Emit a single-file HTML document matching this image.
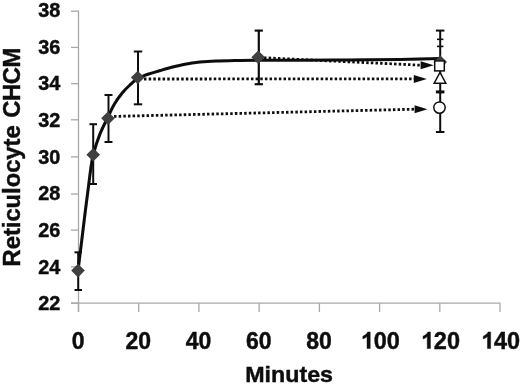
<!DOCTYPE html>
<html><head><meta charset="utf-8"><title>chart</title>
<style>
html,body{margin:0;padding:0;background:#fff;}
body{width:520px;height:384px;overflow:hidden;}
svg{display:block;}
text{font-family:"Liberation Sans",sans-serif;font-weight:bold;fill:#111;stroke:#111;stroke-width:0.45px;}
</style></head><body>
<svg width="520" height="384" viewBox="0 0 520 384">
<rect width="520" height="384" fill="#fff"/>
<defs><filter id="soft" x="0" y="0" width="520" height="384" filterUnits="userSpaceOnUse"><feGaussianBlur stdDeviation="0.4"/></filter></defs>
<g filter="url(#soft)">

<g stroke="#a8a8a8" stroke-width="1.3" fill="none">
<line x1="78.5" y1="10.6" x2="78.5" y2="311.9"/>
<line x1="71.0" y1="303.2" x2="500.5" y2="303.2"/>
<line x1="71.0" y1="303.2" x2="78.5" y2="303.2"/>
<line x1="71.0" y1="266.8" x2="78.5" y2="266.8"/>
<line x1="71.0" y1="230.1" x2="78.5" y2="230.1"/>
<line x1="71.0" y1="194.0" x2="78.5" y2="194.0"/>
<line x1="71.0" y1="156.9" x2="78.5" y2="156.9"/>
<line x1="71.0" y1="119.8" x2="78.5" y2="119.8"/>
<line x1="71.0" y1="83.7" x2="78.5" y2="83.7"/>
<line x1="71.0" y1="47.4" x2="78.5" y2="47.4"/>
<line x1="71.0" y1="11.2" x2="78.5" y2="11.2"/>
<line x1="78.5" y1="303.2" x2="78.5" y2="311.9"/>
<line x1="138.7" y1="303.2" x2="138.7" y2="311.9"/>
<line x1="198.9" y1="303.2" x2="198.9" y2="311.9"/>
<line x1="259.1" y1="303.2" x2="259.1" y2="311.9"/>
<line x1="319.4" y1="303.2" x2="319.4" y2="311.9"/>
<line x1="379.6" y1="303.2" x2="379.6" y2="311.9"/>
<line x1="439.8" y1="303.2" x2="439.8" y2="311.9"/>
<line x1="500.0" y1="303.2" x2="500.0" y2="311.9"/>
</g>
<text transform="translate(60.4,310.2) scale(1.03,1)" font-size="19.3" text-anchor="end">22</text>
<text transform="translate(60.4,273.5) scale(1.03,1)" font-size="19.3" text-anchor="end">24</text>
<text transform="translate(60.4,236.9) scale(1.03,1)" font-size="19.3" text-anchor="end">26</text>
<text transform="translate(60.4,200.2) scale(1.03,1)" font-size="19.3" text-anchor="end">28</text>
<text transform="translate(60.4,163.6) scale(1.03,1)" font-size="19.3" text-anchor="end">30</text>
<text transform="translate(60.4,127.0) scale(1.03,1)" font-size="19.3" text-anchor="end">32</text>
<text transform="translate(60.4,90.3) scale(1.03,1)" font-size="19.3" text-anchor="end">34</text>
<text transform="translate(60.4,53.7) scale(1.03,1)" font-size="19.3" text-anchor="end">36</text>
<text transform="translate(60.4,17.1) scale(1.03,1)" font-size="19.3" text-anchor="end">38</text>
<text transform="translate(78.1,348.5)" font-size="23" text-anchor="middle">0</text>
<text transform="translate(138.3,348.5)" font-size="23" text-anchor="middle">20</text>
<text transform="translate(198.5,348.5)" font-size="23" text-anchor="middle">40</text>
<text transform="translate(258.7,348.5)" font-size="23" text-anchor="middle">60</text>
<text transform="translate(319.0,348.5)" font-size="23" text-anchor="middle">80</text>
<path transform="translate(361.00,348.5) scale(0.01146,-0.01123)" d="M806,0 H525 V1059 Q371,915 162,846 V1101 Q272,1137 401,1237.5 Q530,1338 578,1472 H806 Z" fill="#111" stroke="#111" stroke-width="40"/>
<text transform="translate(373.65,348.5) scale(1.020,1)" font-size="23" text-anchor="start">00</text>
<path transform="translate(421.21,348.5) scale(0.01146,-0.01123)" d="M806,0 H525 V1059 Q371,915 162,846 V1101 Q272,1137 401,1237.5 Q530,1338 578,1472 H806 Z" fill="#111" stroke="#111" stroke-width="40"/>
<text transform="translate(433.86,348.5) scale(1.020,1)" font-size="23" text-anchor="start">20</text>
<path transform="translate(481.43,348.5) scale(0.01146,-0.01123)" d="M806,0 H525 V1059 Q371,915 162,846 V1101 Q272,1137 401,1237.5 Q530,1338 578,1472 H806 Z" fill="#111" stroke="#111" stroke-width="40"/>
<text transform="translate(494.08,348.5) scale(1.020,1)" font-size="23" text-anchor="start">40</text>
<text transform="translate(289.1,381.6) scale(1.02,1)" font-size="22.8" text-anchor="middle">Minutes</text>
<text transform="translate(20,266.4) rotate(-90)" font-size="23.8" text-anchor="start" letter-spacing="-0.04">Reticulocyte</text>
<text transform="translate(20,48.0) rotate(-90)" font-size="23.8" text-anchor="end" letter-spacing="-0.4">CHCM</text>
<g stroke="#111" fill="none"><line x1="78.2" y1="252.3" x2="78.2" y2="290.0" stroke-width="2.0"/><line x1="74.5" y1="252.3" x2="82.0" y2="252.3" stroke-width="2.0"/><line x1="74.5" y1="290.0" x2="82.0" y2="290.0" stroke-width="2.0"/></g>
<g stroke="#111" fill="none"><line x1="93.2" y1="124.2" x2="93.2" y2="184.0" stroke-width="2.0"/><line x1="89.5" y1="124.2" x2="97.0" y2="124.2" stroke-width="2.0"/><line x1="89.5" y1="184.0" x2="97.0" y2="184.0" stroke-width="2.0"/></g>
<g stroke="#111" fill="none"><line x1="108.5" y1="95.0" x2="108.5" y2="142.0" stroke-width="2.0"/><line x1="104.5" y1="95.0" x2="112.5" y2="95.0" stroke-width="2.0"/><line x1="104.5" y1="142.0" x2="112.5" y2="142.0" stroke-width="2.0"/></g>
<g stroke="#111" fill="none"><line x1="138.0" y1="51.5" x2="138.0" y2="104.3" stroke-width="2.0"/><line x1="133.8" y1="51.5" x2="142.2" y2="51.5" stroke-width="2.0"/><line x1="133.8" y1="104.3" x2="142.2" y2="104.3" stroke-width="2.0"/></g>
<g stroke="#111" fill="none"><line x1="258.8" y1="30.6" x2="258.8" y2="84.2" stroke-width="2.2"/><line x1="254.7" y1="30.6" x2="262.9" y2="30.6" stroke-width="2.2"/><line x1="254.7" y1="84.2" x2="262.9" y2="84.2" stroke-width="2.2"/></g>
<g stroke="#111" fill="none"><line x1="440.2" y1="30.6" x2="440.2" y2="132.0" stroke-width="2.0"/><line x1="435.9" y1="30.6" x2="444.4" y2="30.6" stroke-width="2.0"/><line x1="435.9" y1="132.0" x2="444.4" y2="132.0" stroke-width="2.0"/></g>
<line x1="437.0" y1="39.3" x2="443.4" y2="39.3" stroke="#111" stroke-width="1.6"/>
<line x1="437.0" y1="46.4" x2="443.4" y2="46.4" stroke="#111" stroke-width="1.6"/>
<line x1="435.9" y1="91.9" x2="444.4" y2="91.9" stroke="#111" stroke-width="3.0"/>
<line x1="264.0" y1="57.8" x2="421.0" y2="65.2" stroke="#111" stroke-width="2.8" stroke-dasharray="2.5 2.15"/><path d="M433.8,65.2 L420.6,61.2 L420.6,69.2 Z" fill="#111"/>
<line x1="144.0" y1="79.0" x2="414.2" y2="78.9" stroke="#111" stroke-width="2.8" stroke-dasharray="2.5 2.15"/><path d="M426.9,78.9 L413.8,74.9 L413.8,82.9 Z" fill="#111"/>
<line x1="114.0" y1="116.4" x2="415.0" y2="109.2" stroke="#111" stroke-width="2.8" stroke-dasharray="2.5 2.15"/><path d="M427.5,109.2 L414.6,105.2 L414.6,113.2 Z" fill="#111"/>
<path d="M78.0,271.0 C78.6,265.8 80.6,249.8 81.8,240.0 C83.0,230.2 84.1,220.7 85.2,212.0 C86.3,203.3 87.4,195.0 88.3,188.0 C89.2,181.0 89.8,175.6 90.6,170.0 C91.4,164.4 91.8,160.5 93.3,154.6 C94.8,148.7 97.4,140.5 99.8,134.4 C102.2,128.3 105.0,123.1 107.5,118.0 C110.0,112.9 112.1,108.0 114.6,103.8 C117.1,99.5 119.9,95.9 122.4,92.8 C125.0,89.7 127.4,87.3 129.9,85.0 C132.4,82.7 134.7,80.3 137.2,78.8 C139.7,77.2 142.1,76.4 144.7,75.4 C147.2,74.4 149.9,73.7 152.5,72.9 C155.1,72.1 157.4,71.4 160.3,70.5 C163.2,69.6 165.9,68.7 170.0,67.7 C174.1,66.7 180.0,65.2 185.0,64.3 C190.0,63.3 194.8,62.6 200.0,62.0 C205.2,61.4 210.2,61.1 216.0,60.9 C221.8,60.7 228.0,60.7 235.0,60.6 C242.0,60.5 247.2,60.4 258.0,60.3 C268.8,60.2 284.7,60.2 300.0,60.2 C315.3,60.2 333.3,60.1 350.0,60.0 C366.7,59.9 385.0,59.6 400.0,59.4 C415.0,59.1 433.3,58.6 440.0,58.5" fill="none" stroke="#0a0a0a" stroke-width="3.0" stroke-linejoin="round" stroke-linecap="round"/>
<path d="M78.0,263.8 L84.8,270.6 L78.0,277.4 L71.2,270.6 Z" fill="#3f3f3f"/>
<path d="M93.2,148.0 L100.0,154.8 L93.2,161.6 L86.4,154.8 Z" fill="#3f3f3f"/>
<path d="M108.0,111.5 L114.8,118.3 L108.0,125.1 L101.2,118.3 Z" fill="#3f3f3f"/>
<path d="M137.7,70.7 L144.5,77.5 L137.7,84.3 L130.9,77.5 Z" fill="#3f3f3f"/>
<path d="M258.2,50.5 L265.0,57.3 L258.2,64.1 L251.4,57.3 Z" fill="#3f3f3f"/>
<path d="M440.2,55.2 L447.0,62.0 L440.2,68.8 L433.4,62.0 Z" fill="#3f3f3f"/>
<rect x="434.7" y="60.9" width="9.6" height="10" fill="#fff" stroke="#111" stroke-width="1.5"/>
<path d="M440,72.3 L445.8,83.2 L434.2,83.2 Z" fill="#fff" stroke="#111" stroke-width="1.5" stroke-linejoin="miter"/>
<circle cx="439.5" cy="107.6" r="5.7" fill="#fff" stroke="#111" stroke-width="1.5"/>
</g>
</svg></body></html>
